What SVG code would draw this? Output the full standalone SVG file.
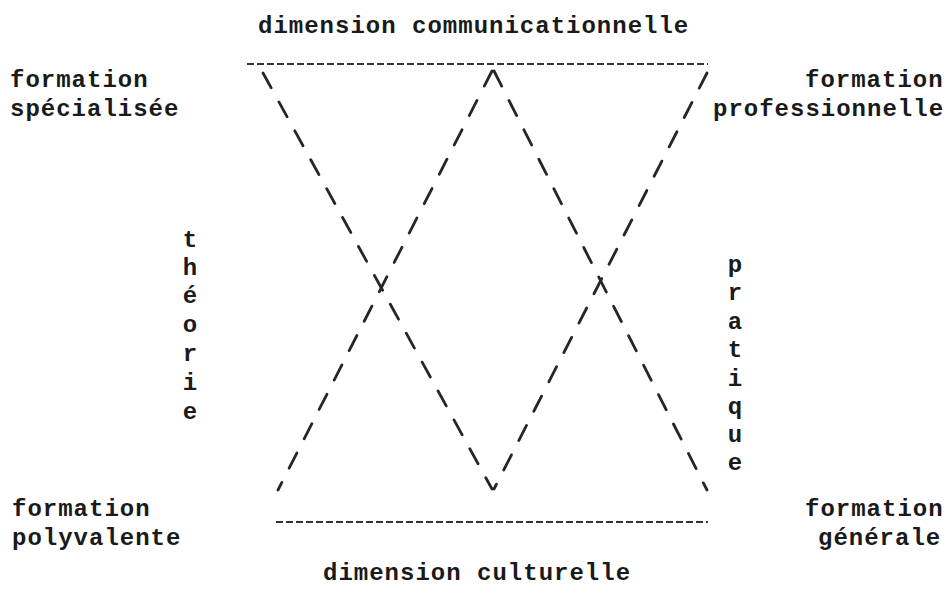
<svg xmlns="http://www.w3.org/2000/svg" width="952" height="592" viewBox="0 0 952 592">
  <style>
    .lbl { font-family: "Liberation Mono", "DejaVu Sans Mono", monospace; font-weight: bold; font-size: 24px; letter-spacing: 1px; fill: #1a1a1a; }
    .vert { font-family: "Liberation Mono", "DejaVu Sans Mono", monospace; font-weight: bold; font-size: 24px; fill: #1a1a1a; text-anchor: middle; }
    .diag { stroke: #262626; stroke-width: 2.8; stroke-dasharray: 17 16; stroke-linecap: round; fill: none; }
    .hline { stroke: #333; stroke-width: 2; stroke-dasharray: 7 3; fill: none; }
  </style>
  <rect width="952" height="592" fill="#ffffff"/>

  <g id="connectors">
    <line class="hline" x1="247" y1="64" x2="708" y2="64"/>
    <line class="hline" x1="276" y1="522" x2="708" y2="522"/>
    <line class="diag" x1="263" y1="73" x2="492" y2="489"/>
    <line class="diag" x1="492" y1="71" x2="278" y2="490"/>
    <line class="diag" x1="494" y1="71" x2="707" y2="490"/>
    <line class="diag" x1="707" y1="73" x2="494" y2="489"/>
  </g>

  <g id="dim-communicationnelle">
    <text class="lbl" x="258" y="33">dimension communicationnelle</text>
  </g>
  <g id="formation-specialisee">
    <text class="lbl" x="10" y="87">formation</text>
    <text class="lbl" x="10" y="116">spécialisée</text>
  </g>
  <g id="formation-professionnelle">
    <text class="lbl" x="805" y="87">formation</text>
    <text class="lbl" x="713" y="116">professionnelle</text>
  </g>
  <g id="theorie">
    <text class="vert"><tspan x="190" y="247">t</tspan><tspan x="190" y="275">h</tspan><tspan x="190" y="303">é</tspan><tspan x="190" y="332">o</tspan><tspan x="190" y="361">r</tspan><tspan x="190" y="390">i</tspan><tspan x="190" y="419">e</tspan></text>
  </g>
  <g id="pratique">
    <text class="vert"><tspan x="735" y="272">p</tspan><tspan x="735" y="300">r</tspan><tspan x="735" y="329">a</tspan><tspan x="735" y="357">t</tspan><tspan x="735" y="386">i</tspan><tspan x="735" y="414">q</tspan><tspan x="735" y="442">u</tspan><tspan x="735" y="470">e</tspan></text>
  </g>
  <g id="formation-polyvalente">
    <text class="lbl" x="12" y="516">formation</text>
    <text class="lbl" x="12" y="545">polyvalente</text>
  </g>
  <g id="formation-generale">
    <text class="lbl" x="805" y="516">formation</text>
    <text class="lbl" x="818" y="545">générale</text>
  </g>
  <g id="dim-culturelle">
    <text class="lbl" x="323" y="580">dimension culturelle</text>
  </g>
</svg>
